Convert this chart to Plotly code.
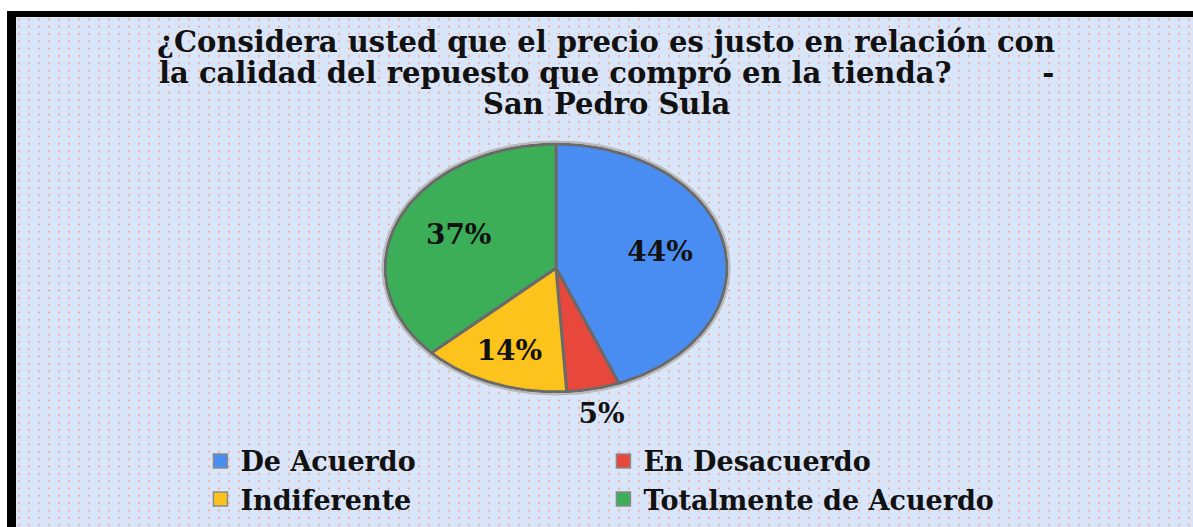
import base64
import numpy as np
import plotly.graph_objects as go

# Survey answers and their shares (%)
categories = ["De Acuerdo", "En Desacuerdo", "Indiferente", "Totalmente de Acuerdo"]
values = [44, 5, 14, 37]
slice_labels = [f"{v}%" for v in values]

# Title, one entry per line
title_lines = [
    "¿Considera usted que el precio es justo en relación con",
    "la calidad del repuesto que compró en la tienda?" + "\u00a0" * 9 + "-",
    "San Pedro Sula",
]

# Styling
slice_colors = ["#4a8df2", "#e8473b", "#fcc31c", "#3cae58"]
label_radius = [0.62, 1.22, 0.74, 0.62]   # label distance as a fraction of the radius
title_line_y = [42, 73, 104]               # px from the top
FONT = "DejaVu Serif"
W, H = 1193, 527
CX, CY, RX, RY = 556, 268, 171, 124        # ellipse centre and radii (px)

# Framed, dotted background as an SVG image
svg = f"""<svg xmlns='http://www.w3.org/2000/svg' width='{W}' height='{H}'>
<defs><pattern id='d' x='16' y='17' width='10' height='7.33' patternUnits='userSpaceOnUse'>
<rect x='2' y='1.5' width='2' height='1.6' fill='#f2a898'/></pattern></defs>
<rect width='{W}' height='{H}' fill='#ffffff'/>
<rect x='7' y='11' width='{W}' height='{H}' fill='#000000'/>
<rect x='16' y='17' width='{W}' height='{H}' fill='#d9e5f8'/>
<rect x='16' y='17' width='{W}' height='{H}' fill='url(#d)'/>
</svg>"""
bg_src = "data:image/svg+xml;base64," + base64.b64encode(svg.encode()).decode()

fig = go.Figure()

total = sum(values)
start = 0.0
lx, ly = [], []
for name, v, col, rf in zip(categories, values, slice_colors, label_radius):
    a0 = 2 * np.pi * start / total
    a1 = 2 * np.pi * (start + v) / total
    th = np.linspace(a0, a1, 120)
    xs = np.concatenate([[CX], CX + RX * np.sin(th), [CX]])
    ys = np.concatenate([[CY], CY - RY * np.cos(th), [CY]])
    fig.add_trace(go.Scatter(
        x=xs, y=ys, mode="lines", fill="toself", fillcolor=col,
        line=dict(color="#6a6a6a", width=3), name=name, legendgroup=name,
        showlegend=False, hoverinfo="name"))
    mid = (a0 + a1) / 2
    lx.append(CX + rf * RX * np.sin(mid))
    ly.append(CY - rf * RY * np.cos(mid))
    start += v

# Light rim around the whole pie
rim = np.linspace(0, 2 * np.pi, 240)
fig.add_trace(go.Scatter(
    x=CX + (RX + 2.5) * np.sin(rim), y=CY - (RY + 2.5) * np.cos(rim),
    mode="lines", line=dict(color="#b8b8b8", width=2),
    showlegend=False, hoverinfo="skip"))

# Legend entries (square swatches)
for name, col in zip(categories, slice_colors):
    fig.add_trace(go.Scatter(
        x=[None], y=[None], mode="markers", name=name, legendgroup=name,
        marker=dict(symbol="square", size=14, color=col,
                    line=dict(color="#8a8a8a", width=1.5))))

# Percentage labels
fig.add_trace(go.Scatter(
    x=lx, y=ly, mode="text", text=slice_labels, showlegend=False,
    textfont=dict(family=FONT, size=28, color="#111111", weight="bold"),
    hoverinfo="skip"))

title_annots = [
    dict(text=f"<b>{line}</b>", xref="paper", yref="paper",
         x=606 / W, y=1 - ty / H, xanchor="center", yanchor="middle",
         showarrow=False, font=dict(family=FONT, size=29, color="#111111"))
    for line, ty in zip(title_lines, title_line_y)
]

fig.update_layout(
    width=W, height=H,
    margin=dict(l=0, r=0, t=0, b=0),
    paper_bgcolor="#ffffff",
    plot_bgcolor="rgba(0,0,0,0)",
    images=[dict(source=bg_src, xref="paper", yref="paper", x=0, y=1,
                 sizex=1, sizey=1, xanchor="left", yanchor="top",
                 sizing="stretch", layer="below")],
    annotations=title_annots,
    xaxis=dict(range=[0, W], visible=False, fixedrange=True),
    yaxis=dict(range=[H, 0], visible=False, fixedrange=True),
    legend=dict(orientation="h", x=0.168, xanchor="left", y=0.171, yanchor="top",
                entrywidth=358, bgcolor="rgba(0,0,0,0)", tracegroupgap=0,
                font=dict(family=FONT, size=27, color="#111111", weight="bold")),
    showlegend=True,
)

fig.write_html("out.html")
